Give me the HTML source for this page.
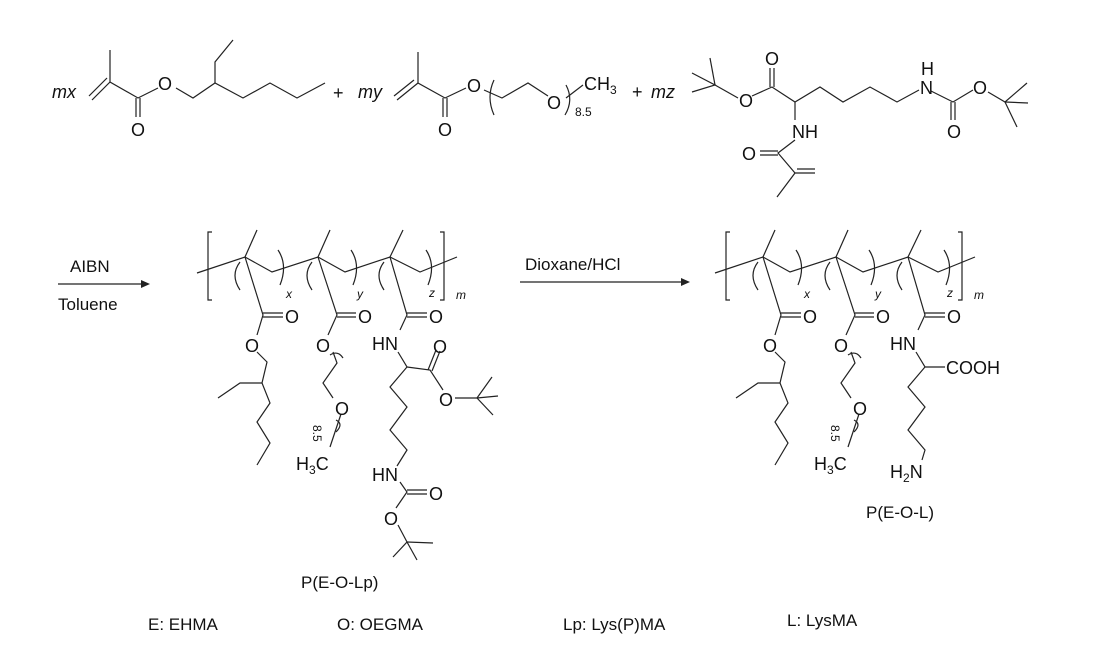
<!DOCTYPE html>
<html><head><meta charset="utf-8"><style>
html,body{margin:0;padding:0;background:#fff;}
svg{display:block;}
text{font-family:"Liberation Sans",Arial,sans-serif;fill:#111;}
.a{font-size:18px;}
.s{font-size:12px;}
.l{font-size:17px;}
</style></head><body>
<svg width="1104" height="664" viewBox="0 0 1104 664" xmlns="http://www.w3.org/2000/svg">
<g stroke="#222" stroke-width="1.2" fill="none">
<!-- Monomer 1 -->
<polyline points="110,50 110,82 138,98 158,88"/>
<line x1="110" y1="82" x2="92" y2="100"/><line x1="107" y1="78" x2="89" y2="96"/>
<line x1="136" y1="98" x2="136" y2="117"/><line x1="140" y1="98" x2="140" y2="117"/>
<polyline points="176,88 193,98 215,83 243,98 270,83 297,98 325,83"/>
<polyline points="215,83 215,62 233,40"/>
<!-- Monomer 2 -->
<polyline points="418,52 418,83 445,98 466,88"/>
<line x1="418" y1="83" x2="397" y2="100"/><line x1="414" y1="80" x2="394" y2="96"/>
<line x1="443" y1="98" x2="443" y2="117"/><line x1="447" y1="98" x2="447" y2="117"/>
<polyline points="484,90 502,98 528,83 548,96"/>
<path d="M494,80 Q486,97 494,115"/>
<path d="M566,85 Q574,100 565,115"/>
<line x1="566" y1="98" x2="583" y2="85"/>
<!-- Monomer 3 -->
<polyline points="692,73 715,85 692,92"/><line x1="715" y1="85" x2="710" y2="58"/>
<polyline points="715,85 738,98"/><polyline points="752,96 772,87 795,102 820,87 843,102 870,87 897,102 919,90"/>
<line x1="770" y1="87" x2="770" y2="68"/><line x1="774" y1="87" x2="774" y2="68"/>
<line x1="795" y1="102" x2="795" y2="120"/>
<polyline points="795,140 778,153 795,173 777,197"/>
<line x1="760" y1="151" x2="778" y2="151"/><line x1="760" y1="155" x2="778" y2="155"/>
<line x1="795" y1="173" x2="815" y2="173"/><line x1="797" y1="169" x2="815" y2="169"/>
<polyline points="931,91 953,102 973,90"/>
<line x1="951" y1="102" x2="951" y2="120"/><line x1="955" y1="102" x2="955" y2="120"/>
<polyline points="988,92 1005,102 1027,83"/><line x1="1005" y1="102" x2="1028" y2="103"/><line x1="1005" y1="102" x2="1017" y2="127"/>
<!-- arrows -->
<line x1="58" y1="284" x2="148" y2="284"/>
<line x1="520" y1="282" x2="686" y2="282"/>
</g>
<polygon points="150,284 141,280 141,288" fill="#222"/>
<polygon points="690,282 681,278 681,286" fill="#222"/>

<!-- Product backbone + chains 1,2 -->
<g id="bb" stroke="#222" stroke-width="1.2" fill="none">
<polyline points="212,232 208,232 208,300 212,300"/>
<polyline points="440,232 444,232 444,300 440,300"/>
<polyline points="197,273 245,257 272,272 318,257 345,272 390,257 420,272 457,257"/>
<line x1="245" y1="257" x2="257" y2="230"/><line x1="318" y1="257" x2="330" y2="230"/><line x1="390" y1="257" x2="403" y2="230"/>
<path d="M240,262 Q230,275 240,290"/><path d="M278,250 Q288,265 280,285"/>
<path d="M312,262 Q302,275 312,290"/><path d="M351,250 Q361,265 353,285"/>
<path d="M384,262 Q374,275 384,290"/><path d="M426,250 Q436,265 428,285"/>
<!-- chain 1 -->
<polyline points="245,257 263,315 257,335"/>
<line x1="263" y1="313" x2="283" y2="313"/><line x1="263" y1="317" x2="283" y2="317"/>
<polyline points="257,352 267,362 262,383 270,403 257,422 270,443 257,465"/>
<polyline points="262,383 240,383 218,398"/>
<!-- chain 2 -->
<polyline points="318,257 337,315 328,335"/>
<line x1="337" y1="313" x2="356" y2="313"/><line x1="337" y1="317" x2="356" y2="317"/>
<path d="M330,355 Q338,350 343,358"/>
<polyline points="333,352 337,363 323,383 333,398"/>
<path d="M336,420 Q344,424 336,432"/>
<line x1="341" y1="414" x2="330" y2="447"/>
</g>
<g id="tx">
<text class="a" x="285" y="323">O</text>
<text class="a" x="245" y="352">O</text>
<text class="a" x="358" y="323">O</text>
<text class="a" x="316" y="352">O</text>
<text class="a" x="335" y="415">O</text>
<text class="s" transform="translate(313,425) rotate(90)">8.5</text>
<text class="a" x="296" y="470">H<tspan class="s" dy="4">3</tspan><tspan dy="-4">C</tspan></text>
<text class="s" x="286" y="298" font-style="italic">x</text>
<text class="s" x="357" y="298" font-style="italic">y</text>
<text class="s" x="429" y="297" font-style="italic">z</text>
<text class="s" x="456" y="299" font-style="italic" font-size="14">m</text>
</g>
<use href="#bb" transform="translate(518,0)"/>
<use href="#tx" transform="translate(518,0)"/>

<!-- Product 1 chain 3 -->
<g stroke="#222" stroke-width="1.2" fill="none">
<polyline points="390,257 407,315 400,330"/>
<line x1="407" y1="313" x2="427" y2="313"/><line x1="407" y1="317" x2="427" y2="317"/>
<polyline points="398,352 407,367 390,387 407,407 390,430 407,450 397,466"/>
<polyline points="407,367 430,370 443,390"/>
<line x1="428" y1="370" x2="436" y2="350"/><line x1="432" y1="371" x2="440" y2="351"/>
<polyline points="455,398 477,398 492,377"/><line x1="477" y1="398" x2="493" y2="415"/><line x1="477" y1="398" x2="498" y2="396"/>
<polyline points="400,482 407,492 396,508"/>
<line x1="407" y1="490" x2="427" y2="490"/><line x1="407" y1="494" x2="427" y2="494"/>
<polyline points="398,525 407,542 393,557"/><line x1="407" y1="542" x2="433" y2="543"/><line x1="407" y1="542" x2="417" y2="560"/>
</g>
<!-- Product 2 chain 3 -->
<g stroke="#222" stroke-width="1.2" fill="none">
<polyline points="908,257 925,315 918,330"/>
<line x1="925" y1="313" x2="945" y2="313"/><line x1="925" y1="317" x2="945" y2="317"/>
<polyline points="916,352 925,367 908,387 925,407 908,430 925,450 922,460"/>
<line x1="925" y1="367" x2="945" y2="367"/>
</g>

<!-- text -->
<text class="a" x="52" y="98" font-style="italic" font-size="18">mx</text>
<text class="a" x="158" y="90">O</text>
<text class="a" x="131" y="136">O</text>
<text class="a" x="333" y="99" font-size="20">+</text>
<text class="a" x="358" y="98" font-style="italic" font-size="18">my</text>
<text class="a" x="438" y="136">O</text>
<text class="a" x="467" y="92">O</text>
<text class="a" x="547" y="109">O</text>
<text class="a" x="584" y="90">CH<tspan class="s" dy="4">3</tspan></text>
<text class="s" x="575" y="116">8.5</text>
<text class="a" x="632" y="98" font-size="20">+</text>
<text class="a" x="651" y="98" font-style="italic" font-size="18">mz</text>
<text class="a" x="739" y="107">O</text>
<text class="a" x="765" y="65">O</text>
<text class="a" x="792" y="138">NH</text>
<text class="a" x="742" y="160">O</text>
<text class="a" x="920" y="94">N</text>
<text class="a" x="921" y="75">H</text>
<text class="a" x="973" y="94">O</text>
<text class="a" x="947" y="138">O</text>
<text class="l" x="70" y="272">AIBN</text>
<text class="l" x="58" y="310">Toluene</text>
<text class="l" x="525" y="270">Dioxane/HCl</text>
<!-- P1 chain3 labels -->
<text class="a" x="429" y="323">O</text>
<text class="a" x="372" y="350">HN</text>
<text class="a" x="433" y="353">O</text>
<text class="a" x="439" y="406">O</text>
<text class="a" x="372" y="481">HN</text>
<text class="a" x="429" y="500">O</text>
<text class="a" x="384" y="525">O</text>
<text class="l" x="301" y="588">P(E-O-Lp)</text>
<!-- P2 chain3 labels -->
<text class="a" x="947" y="323">O</text>
<text class="a" x="890" y="350">HN</text>
<text class="a" x="946" y="374">COOH</text>
<text class="a" x="890" y="478">H<tspan class="s" dy="4">2</tspan><tspan dy="-4">N</tspan></text>
<text class="l" x="866" y="518">P(E-O-L)</text>
<!-- legend -->
<text class="l" x="148" y="630">E: EHMA</text>
<text class="l" x="337" y="630">O: OEGMA</text>
<text class="l" x="563" y="630">Lp: Lys(P)MA</text>
<text class="l" x="787" y="626">L: LysMA</text>
</svg>
</body></html>
